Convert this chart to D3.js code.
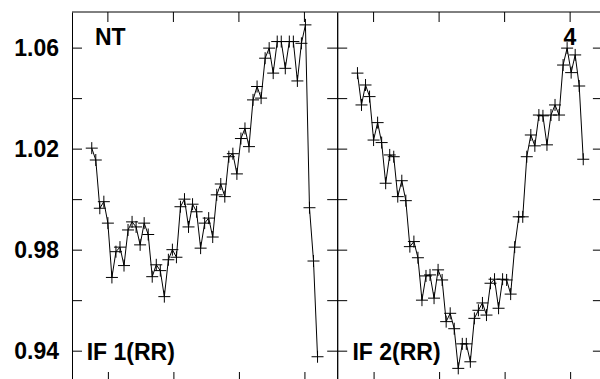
<!DOCTYPE html>
<html lang="en">
<head>
<meta charset="UTF-8">
<script src="https://cdnjs.cloudflare.com/ajax/libs/d3/7.8.5/d3.min.js"></script>
<style>
  body { margin: 0; background: #fff; }
  svg { display: block; font-family: "Liberation Sans", Arial, sans-serif; }
</style>
</head>
<body>
<svg id="chart" width="600" height="379"></svg>
<script>
    // y ticks (all), labelled ones, x ticks in point-index units
    const yTicks = [0.94, 0.96, 0.98, 1.00, 1.02, 1.04, 1.06];
    const yLabels = [0.94, 0.98, 1.02, 1.06];
    const xTicks = [4, 20.25, 36.5, 52.75];

    const panelNames = ['IF 1(RR)', 'IF 2(RR)'];
    const cornerLabels = ['NT', '4'];

    const series1 = [1.0202, 1.0155, 0.9964, 0.999, 0.9905, 0.969, 0.9792, 0.981, 0.9737, 0.9878,
        0.991, 0.989, 0.9819, 0.9905, 0.986, 0.9693, 0.974, 0.9717, 0.9614, 0.976,
        0.980, 0.977, 0.997, 1.000, 0.989, 0.998, 0.995, 0.9806, 0.9905, 0.9925,
        0.985, 1.0017, 1.006, 1.001, 1.0168, 1.018, 1.010, 1.024, 1.028, 1.0208,
        1.0393, 1.0446, 1.040, 1.0558, 1.0598, 1.0499, 1.0624, 1.0624, 1.0518, 1.0624,
        1.0624, 1.0468, 1.0617, 1.069, 0.9966, 0.9755, 0.9376];

    const series2 = [1.0499, 1.0373, 1.0452, 1.0406, 1.0234, 1.0303, 1.0224, 1.0063, 1.0175, 1.0168,
        1.001, 1.0073, 0.9994, 0.9812, 0.9832, 0.9768, 0.960, 0.9696, 0.970, 0.9608,
        0.972, 0.968, 0.9515, 0.9548, 0.9487, 0.933, 0.9427, 0.9427, 0.9356, 0.9528,
        0.956, 0.9589, 0.9541, 0.9667, 0.9683, 0.9568, 0.9683, 0.968, 0.9624, 0.981,
        0.993, 0.993, 1.0168, 1.0254, 1.0211, 1.0333, 1.033, 1.0215, 1.0333, 1.0373,
        1.0333, 1.0531, 1.0598, 1.0501, 1.0571, 1.0448, 1.0158];

    const allSeries = [series1, series2];

    const mTop = 12, mBottom = 382, mLeft = 72, panelW = 265.7;

    const svg = d3.select('#chart');

    const y = d3.scaleLinear().domain([0.9276, 1.0741]).range([mBottom, mTop]);

    const line = d3.line()
        .x(d => d.px)
        .y(d => y(d.v));

    allSeries.forEach((data, p) => {
        const x0 = mLeft + p * panelW;
        const x = d3.scaleLinear().domain([-4.9, 61]).range([x0, x0 + panelW]);
        const g = svg.append('g');

        // frame axes with inward ticks
        const leftAxis = d3.axisLeft(y).tickValues(yTicks).tickSize(-10).tickSizeOuter(0)
            .tickPadding(13)
            .tickFormat(d => (p === 0 && yLabels.some(l => Math.abs(l - d) < 1e-9)) ? d.toFixed(2) : '');
        const rightAxis = d3.axisRight(y).tickValues(yTicks).tickSize(-10).tickSizeOuter(0).tickFormat('');
        const topAxis = d3.axisTop(x).tickValues(xTicks).tickSize(-10).tickSizeOuter(0).tickFormat('').offset(0);
        const bottomAxis = d3.axisBottom(x).tickValues(xTicks).tickSize(-10).tickSizeOuter(0).tickFormat('');

        const la = g.append('g').attr('transform', `translate(${p === 0 ? x0 : x0 - 0.5},0)`).call(leftAxis);
        g.append('g').attr('transform', `translate(${x0 + panelW - 0.5},0)`).call(rightAxis);
        g.append('g').attr('transform', `translate(0,${mTop})`).call(topAxis);
        g.append('g').attr('transform', `translate(0,${mBottom})`).call(bottomAxis);

        g.selectAll('.domain, .tick line').attr('stroke', '#000');
        la.selectAll('text')
            .attr('dy', null)
            .attr('y', 8.3)
            .style('font-size', '23px')
            .style('font-weight', 'bold')
            .attr('fill', '#000');

        const pts = data.map((v, i) => ({ px: x(i), v }));

        g.append('path')
            .datum(pts)
            .attr('d', line)
            .attr('fill', 'none')
            .attr('stroke', '#000')
            .attr('stroke-width', 1);

        g.selectAll('.mark')
            .data(pts).enter()
            .append('path')
            .attr('class', 'mark')
            .attr('transform', d => `translate(${d.px},${y(d.v)})`)
            .attr('d', 'M-6,0H6M0,-6V6')
            .attr('stroke', '#000')
            .attr('stroke-width', 1);

        // panel texts
        g.append('text')
            .attr('x', x0 + 14.7)
            .attr('y', 360)
            .style('font-size', '23px')
            .style('font-weight', 'bold')
            .text(panelNames[p]);

        g.append('text')
            .attr('x', p === 0 ? x0 + 23 : x0 + panelW - 27)
            .attr('y', 45)
            .attr('text-anchor', p === 0 ? 'start' : 'end')
            .style('font-size', '23px')
            .style('font-weight', 'bold')
            .text(cornerLabels[p]);
    });
</script>
</body>
</html>
